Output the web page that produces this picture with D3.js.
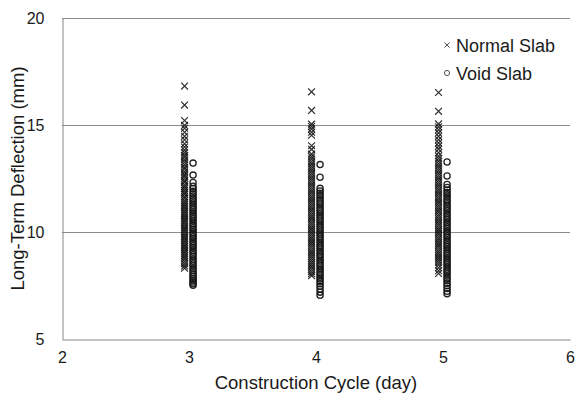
<!DOCTYPE html>
<html>
<head>
<meta charset="utf-8">
<script src="https://cdn.jsdelivr.net/npm/d3@7"></script>
<style>
  html, body { margin: 0; padding: 0; background: #fff; }
  svg { display: block; font-family: "Liberation Sans", Arial, sans-serif; }
</style>
</head>
<body>
<svg id="chart" width="576" height="397"></svg>
<script>
// Construction cycles (days) and long-term deflection results (mm)
const cycles = [3, 4, 5];

const normalCycle3 = [16.82, 15.93, 15.21, 14.98, 14.85, 14.66, 14.47, 14.31, 14.12, 13.97, 13.83, 13.71, 13.58, 13.49, 13.37, 13.26, 13.14, 13.02, 12.93, 12.81, 12.70, 12.62, 12.51, 12.40, 12.33, 12.21, 12.12, 12.03, 11.94, 11.85, 11.77, 11.66, 11.58, 11.47, 11.39, 11.30, 11.21, 11.12, 11.04, 10.95, 10.87, 10.78, 10.70, 10.61, 10.53, 10.44, 10.36, 10.27, 10.19, 10.10, 10.02, 9.93, 9.85, 9.76, 9.68, 9.59, 9.51, 9.42, 9.34, 9.25, 9.17, 9.08, 9.00, 8.91, 8.83, 8.74, 8.63, 8.52, 8.41, 8.31];
const normalCycle4 = [16.55, 15.68, 15.04, 14.93, 14.81, 14.66, 14.52, 14.03, 13.86, 13.64, 13.52, 13.41, 13.29, 13.18, 13.07, 12.96, 12.85, 12.74, 12.63, 12.52, 12.41, 12.30, 12.19, 12.08, 11.97, 11.87, 11.76, 11.65, 11.55, 11.44, 11.34, 11.23, 11.13, 11.02, 10.92, 10.81, 10.71, 10.61, 10.50, 10.40, 10.30, 10.19, 10.09, 9.99, 9.89, 9.78, 9.68, 9.58, 9.48, 9.38, 9.28, 9.17, 9.07, 8.97, 8.87, 8.77, 8.67, 8.57, 8.47, 8.37, 8.26, 8.15, 8.05, 7.96];
const normalCycle5 = [16.52, 15.64, 15.05, 14.92, 14.78, 14.63, 14.47, 14.31, 14.16, 14.01, 13.87, 13.70, 13.55, 13.43, 13.31, 13.19, 13.08, 12.97, 12.86, 12.75, 12.64, 12.53, 12.42, 12.31, 12.20, 12.09, 11.98, 11.88, 11.77, 11.66, 11.56, 11.45, 11.35, 11.24, 11.14, 11.03, 10.93, 10.82, 10.72, 10.62, 10.51, 10.41, 10.31, 10.20, 10.10, 10.00, 9.90, 9.79, 9.69, 9.59, 9.49, 9.39, 9.29, 9.18, 9.08, 8.98, 8.88, 8.78, 8.68, 8.58, 8.46, 8.33, 8.19, 8.06];

const voidCycle3 = [13.22, 12.66, 12.31, 12.14, 12.02, 11.90, 11.79, 11.68, 11.57, 11.46, 11.36, 11.25, 11.15, 11.04, 10.94, 10.83, 10.73, 10.62, 10.52, 10.41, 10.31, 10.20, 10.10, 9.99, 9.89, 9.78, 9.68, 9.57, 9.47, 9.36, 9.26, 9.15, 9.05, 8.94, 8.84, 8.73, 8.63, 8.52, 8.42, 8.31, 8.21, 8.10, 8.00, 7.91, 7.83, 7.74, 7.66, 7.58, 7.51];
const voidCycle4 = [13.15, 12.56, 12.04, 11.92, 11.81, 11.70, 11.59, 11.48, 11.37, 11.27, 11.16, 11.05, 10.95, 10.84, 10.74, 10.63, 10.53, 10.42, 10.32, 10.21, 10.11, 10.00, 9.90, 9.79, 9.69, 9.58, 9.48, 9.37, 9.27, 9.16, 9.06, 8.95, 8.85, 8.74, 8.64, 8.53, 8.43, 8.32, 8.22, 8.11, 8.01, 7.90, 7.80, 7.69, 7.58, 7.46, 7.33, 7.19, 7.04];
const voidCycle5 = [13.27, 12.62, 12.22, 12.08, 11.96, 11.85, 11.74, 11.63, 11.52, 11.41, 11.31, 11.20, 11.09, 10.99, 10.88, 10.78, 10.67, 10.57, 10.46, 10.36, 10.25, 10.15, 10.04, 9.94, 9.83, 9.73, 9.62, 9.52, 9.41, 9.31, 9.20, 9.10, 8.99, 8.89, 8.78, 8.68, 8.57, 8.47, 8.36, 8.26, 8.15, 8.05, 7.94, 7.83, 7.72, 7.61, 7.49, 7.36, 7.23, 7.12];

const seriesNames = ["Normal Slab", "Void Slab"];
const xTicks = [2, 3, 4, 5, 6];
const yTicks = [5, 10, 15, 20];
const gridValues = [10, 15, 20];
const xTitle = "Construction Cycle (day)";
const yTitle = "Long-Term Deflection (mm)";

// Layout
const margin = { left: 62, right: 6, top: 18, bottom: 58 };
const W = 576, H = 397;
const svg = d3.select("#chart");

const x = d3.scaleLinear().domain([2, 6]).range([margin.left, W - margin.right]);
const y = d3.scaleLinear().domain([5, 20]).range([H - margin.bottom, margin.top]);

// Horizontal gridlines
svg.append("g").selectAll("line").data(gridValues).join("line")
  .attr("x1", x(2)).attr("x2", x(6))
  .attr("y1", d => Math.round(y(d)) + 0.5).attr("y2", d => Math.round(y(d)) + 0.5)
  .attr("stroke", "#8c8c8c").attr("stroke-width", 1);

// Axes
const xAxis = svg.append("g")
  .attr("transform", `translate(0,${Math.round(y(5)) + 0.5})`)
  .call(d3.axisBottom(x).tickValues(xTicks).tickSize(0).tickPadding(12).tickFormat(d3.format("d")));
const yAxis = svg.append("g")
  .attr("transform", `translate(${Math.round(x(2)) + 0.5},0)`)
  .call(d3.axisLeft(y).tickValues(yTicks).tickSize(0).tickPadding(18).tickFormat(d3.format("d")));

[xAxis, yAxis].forEach(g => {
  g.select(".domain").attr("stroke", "#868686").attr("stroke-width", 1);
  g.selectAll("text").attr("font-size", 16).attr("fill", "#1a1a1a")
    .attr("font-family", "Liberation Sans, Arial, sans-serif");
});

// Axis titles
svg.append("text")
  .attr("x", x(4)).attr("y", 389)
  .attr("text-anchor", "middle").attr("font-size", 18.5).attr("fill", "#1a1a1a")
  .text(xTitle);
svg.append("text")
  .attr("transform", `translate(24,${y(12.5)}) rotate(-90)`)
  .attr("text-anchor", "middle").attr("font-size", 18.5).attr("fill", "#1a1a1a")
  .text(yTitle);

// Markers
const normalOffset = -0.035, voidOffset = 0.032;
const markColor = "#161616";

function crossPath(s) {
  return `M${-s},${-s}L${s},${s}M${-s},${s}L${s},${-s}`;
}

const normalPoints = [];
[normalCycle3, normalCycle4, normalCycle5].forEach((vals, i) =>
  vals.forEach(v => normalPoints.push({ c: cycles[i], v })));
const voidPoints = [];
[voidCycle3, voidCycle4, voidCycle5].forEach((vals, i) =>
  vals.forEach(v => voidPoints.push({ c: cycles[i], v })));

svg.append("g").selectAll("path").data(normalPoints).join("path")
  .attr("transform", d => `translate(${x(d.c + normalOffset)},${y(d.v)})`)
  .attr("d", crossPath(3.4))
  .attr("fill", "none").attr("stroke", markColor).attr("stroke-width", 1.2)
  .attr("stroke-opacity", 0.9);

svg.append("g").selectAll("circle").data(voidPoints).join("circle")
  .attr("cx", d => x(d.c + voidOffset)).attr("cy", d => y(d.v))
  .attr("r", 3.1)
  .attr("fill", "none").attr("stroke", markColor).attr("stroke-width", 1.3)
  .attr("stroke-opacity", 0.95);

// Legend
const legend = svg.append("g").attr("transform", "translate(447,45)");
legend.append("path").attr("d", crossPath(2.6))
  .attr("fill", "none").attr("stroke", "#555").attr("stroke-width", 1);
legend.append("text").attr("x", 9).attr("y", 6.5)
  .attr("font-size", 18).attr("fill", "#1a1a1a").text(seriesNames[0]);
legend.append("circle").attr("cx", 0).attr("cy", 28).attr("r", 2.6)
  .attr("fill", "none").attr("stroke", "#555").attr("stroke-width", 1);
legend.append("text").attr("x", 9).attr("y", 34.5)
  .attr("font-size", 18).attr("fill", "#1a1a1a").text(seriesNames[1]);
</script>
</body>
</html>
